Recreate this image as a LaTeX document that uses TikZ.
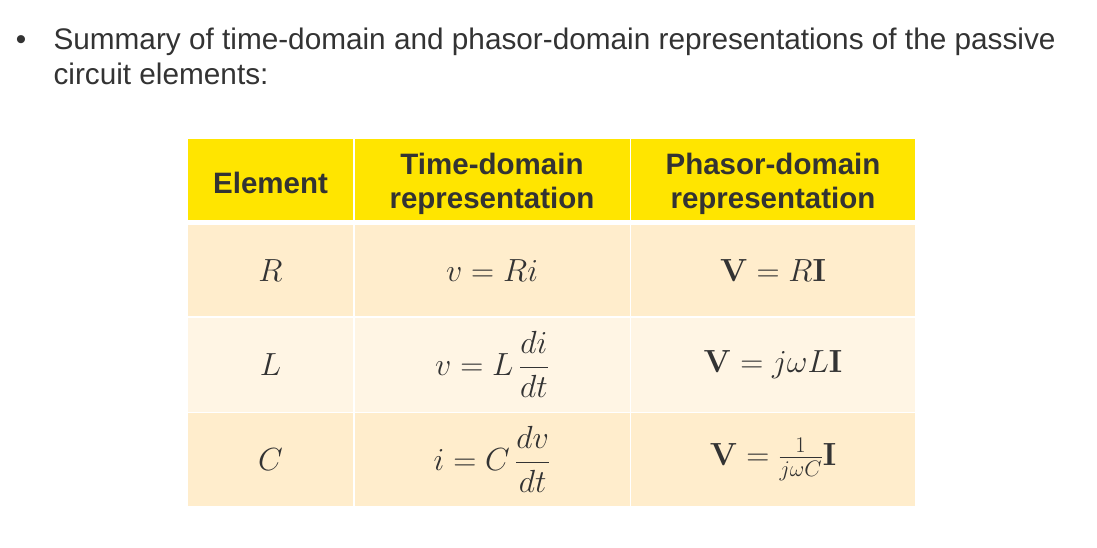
\documentclass[tikz,border=0pt]{standalone}
\usepackage{fix-cm}
\usepackage{amsmath}
\usepackage[no-math]{fontspec}
\setmainfont{Liberation Sans}
\usepackage{xcolor}
\usetikzlibrary{positioning}
\definecolor{hdryellow}{HTML}{FFE500}
\definecolor{rowdark}{HTML}{FFEDCC}
\definecolor{rowlight}{HTML}{FFF5E4}
\definecolor{inkgray}{HTML}{333333}

\begin{document}
\begin{tikzpicture}[x=1pt,y=-1pt,node distance=1.5pt,text=inkgray]
    \tikzstyle{cell}=[rectangle,inner sep=0pt,outer sep=0pt,align=center]
    \tikzstyle{head}=[cell,fill=hdryellow,minimum height=80.5pt]
    \tikzstyle{headtext}=[align=center,yshift=-5pt,font=\fontsize{29.5}{34}\selectfont\bfseries]
    \tikzstyle{dark}=[cell,fill=rowdark,font=\fontsize{32}{38}\selectfont]
    \tikzstyle{light}=[cell,fill=rowlight,font=\fontsize{32}{38}\selectfont]
    \useasboundingbox (0,0) rectangle (1097,547);
    % bullet line
    \node[anchor=base,font=\fontsize{29.75}{35}\selectfont](dot) at (21,49) {•};
    \node[anchor=base west,font=\fontsize{29.75}{35}\selectfont](sum1) at (50,49) {Summary of time-domain and phasor-domain representations of the passive};
    \node[anchor=base west,font=\fontsize{29.75}{35}\selectfont](sum2) at (50,84) {circuit elements:};
    % header row
    \begin{scope}
      \node[head,minimum width=165pt,anchor=north west](elem) at (188,139) {};
      \node[head,minimum width=275pt,right=of elem](time) {};
      \node[head,minimum width=284pt,right=of time](phas) {};
      \node[headtext,yshift=1pt](elemtxt) at (elem.center) {Element};
      \node[headtext](timetxt) at (time.center) {Time-domain\\representation};
      \node[headtext](phastxt) at (phas.center) {Phasor-domain\\representation};
    \end{scope}
    % R row
    \node[dark,minimum width=165pt,minimum height=91pt,below=5.5pt of elem](elemR) {$R$};
    \node[dark,minimum width=275pt,minimum height=91pt,below=5.5pt of time](timeR) {$v = Ri$};
    \node[dark,minimum width=284pt,minimum height=91pt,below=5.5pt of phas](phasR) {$\mathbf{V} = R\mathbf{I}$};
    % L row
    \node[light,minimum width=165pt,minimum height=94pt,below=of elemR](elemL) {$L$};
    \node[light,minimum width=275pt,minimum height=94pt,below=of timeR](timeL) {$v = L\,\dfrac{di}{dt}$};
    \node[light,minimum width=284pt,minimum height=94pt,below=of phasR](phasL) {$\mathbf{V} = j\omega L\mathbf{I}$};
    % C row
    \node[dark,minimum width=165pt,minimum height=92.5pt,below=of elemL](elemC) {$C$};
    \node[dark,minimum width=275pt,minimum height=92.5pt,below=of timeL](timeC) {$i = C\,\dfrac{dv}{dt}$};
    \node[dark,minimum width=284pt,minimum height=92.5pt,below=of phasL](phasC) {$\mathbf{V} = \frac{1}{j\omega C}\mathbf{I}$};
\end{tikzpicture}
\end{document}
